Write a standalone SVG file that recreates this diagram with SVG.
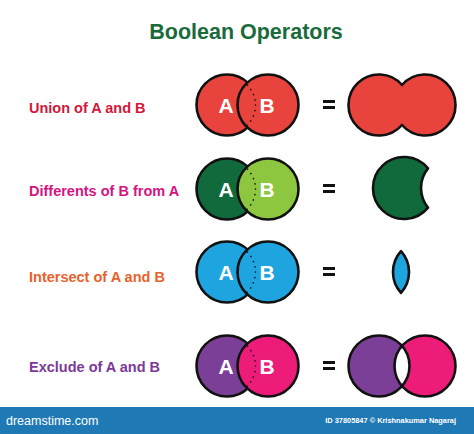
<svg xmlns="http://www.w3.org/2000/svg" width="474" height="434" viewBox="0 0 474 434">
<defs>
<style>
text{font-family:"Liberation Sans",Arial,sans-serif;font-weight:bold}
.lbl{font-size:14.5px}
.ltr{font-size:21px;fill:#fff;text-anchor:middle}
.ol{stroke:#111;stroke-width:2.6;stroke-linejoin:round}
.dot{fill:none;stroke:#111;stroke-width:1.6;stroke-dasharray:0.1 5.5;stroke-linecap:round}
.eq{fill:#111}
.ft{fill:#fff;font-size:7.4px}
</style>
<clipPath id="cb1"><circle cx="268" cy="105" r="30.5"/></clipPath>
<clipPath id="cb2"><circle cx="268" cy="189" r="30.5"/></clipPath>
<clipPath id="cb3"><circle cx="268" cy="272" r="30.5"/></clipPath>
<clipPath id="cb4"><circle cx="268" cy="366" r="30.5"/></clipPath>
</defs>
<rect width="474" height="434" fill="#fff"/>
<text x="246" y="39" font-size="21.5" fill="#1a6b3c" text-anchor="middle">Boolean Operators</text>

<g id="row-union">
<text class="lbl" x="29" y="113" fill="#d3173a">Union of A and B</text>
<circle class="ol" cx="227" cy="105" r="30.5" fill="#e8433c"/>
<circle class="ol" cx="268" cy="105" r="30.5" fill="#e8433c"/>
<circle class="dot" cx="227" cy="105" r="28.5" clip-path="url(#cb1)"/>
<text class="ltr" x="226" y="113">A</text>
<text class="ltr" x="267" y="113">B</text>
<rect class="eq" x="323" y="100" width="12" height="3"/><rect class="eq" x="323" y="106" width="12" height="3"/>
<path class="ol" fill="#e8433c" d="M402,85 A30.5,30.5 0 1 0 402,125 A30.5,30.5 0 1 0 402,85 Z"/>
</g>

<g id="row-difference">
<text class="lbl" x="29" y="196" fill="#d4147f">Differents of B from A</text>
<circle class="ol" cx="227" cy="189" r="30.5" fill="#116a3b"/>
<circle class="ol" cx="268" cy="189" r="30.5" fill="#8dc63f"/>
<circle class="dot" cx="227" cy="189" r="28.5" clip-path="url(#cb2)"/>
<text class="ltr" x="226" y="197">A</text>
<text class="ltr" x="267" y="197">B</text>
<rect class="eq" x="323" y="184" width="12" height="3"/><rect class="eq" x="323" y="190" width="12" height="3"/>
<path class="ol" fill="#116a3b" d="M428,168.4 A31,31 0 1 0 428,207.6 A31,31 0 0 1 428,168.4 Z"/>
</g>

<g id="row-intersect">
<text class="lbl" x="29" y="282" fill="#e8612c">Intersect of A and B</text>
<circle class="ol" cx="227" cy="272" r="30.5" fill="#1ea5e0"/>
<circle class="ol" cx="268" cy="272" r="30.5" fill="#1ea5e0"/>
<circle class="dot" cx="227" cy="272" r="28.5" clip-path="url(#cb3)"/>
<text class="ltr" x="226" y="280">A</text>
<text class="ltr" x="267" y="280">B</text>
<rect class="eq" x="323" y="267" width="12" height="3"/><rect class="eq" x="323" y="273" width="12" height="3"/>
<path class="ol" fill="#1ea5e0" d="M401,251.2 A31,31 0 0 0 401,292.8 A31,31 0 0 0 401,251.2 Z"/>
</g>

<g id="row-exclude">
<text class="lbl" x="29" y="372" fill="#7b3a98">Exclude of A and B</text>
<circle class="ol" cx="227" cy="366" r="30.5" fill="#7b3f98"/>
<circle class="ol" cx="268" cy="366" r="30.5" fill="#ec1c78"/>
<circle class="dot" cx="227" cy="366" r="28.5" clip-path="url(#cb4)"/>
<text class="ltr" x="226" y="374">A</text>
<text class="ltr" x="267" y="374">B</text>
<rect class="eq" x="323" y="361" width="12" height="3"/><rect class="eq" x="323" y="367" width="12" height="3"/>
<circle cx="379" cy="366" r="30.5" fill="#7b3f98"/>
<circle cx="425" cy="366" r="30.5" fill="#ec1c78"/>
<path fill="#fff" d="M402,345.8 A30.5,30.5 0 0 0 402,386.2 A30.5,30.5 0 0 0 402,345.8 Z"/>
<circle class="ol" cx="379" cy="366" r="30.5" fill="none"/>
<circle class="ol" cx="425" cy="366" r="30.5" fill="none"/>
</g>

<g id="footer">
<rect x="0" y="407" width="474" height="27" fill="#1f79b5"/>
<text x="6" y="425" fill="#fff" font-size="12.5" style="font-weight:normal">dreamstime.com</text>
<text class="ft" x="456" y="423" text-anchor="end">ID 37805847 © Krishnakumar Nagaraj</text>
</g>
</svg>
